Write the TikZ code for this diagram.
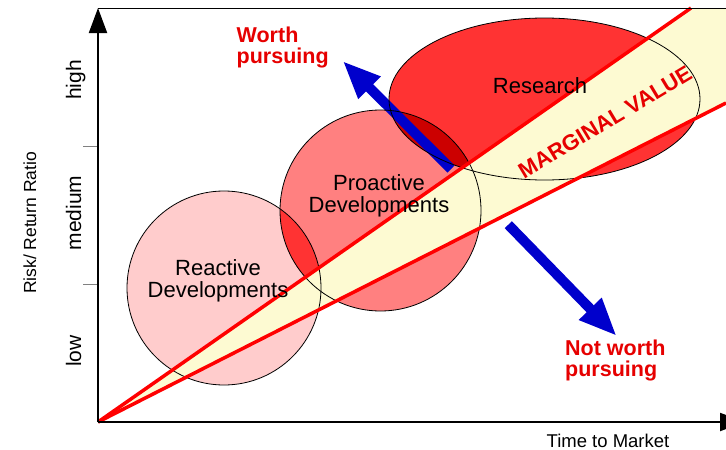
\documentclass[tikz,border=0pt]{standalone}
\usepackage{fontspec}
\setmainfont{Liberation Sans}
\usetikzlibrary{arrows.meta}
\definecolor{reactfill}{HTML}{FFCCCC}
\definecolor{proactfill}{HTML}{FF8080}
\definecolor{resfill}{HTML}{FF3333}
\definecolor{darkov}{HTML}{CC0000}
\definecolor{bandfill}{HTML}{FDFAD2}
\definecolor{txtred}{HTML}{E60000}
\definecolor{arrblue}{HTML}{0000CC}
\definecolor{axisgray}{HTML}{222222}
\begin{document}
\begin{tikzpicture}[x=1pt,y=-1pt,
  bodytext/.style={inner sep=0pt, align=center, font=\fontsize{22}{22.5}\selectfont},
  redtext/.style={inner sep=0pt, align=left, text=txtred, font=\bfseries\fontsize{21.5}{21}\selectfont},
  axislabel/.style={inner sep=0pt, rotate=90, anchor=base, font=\fontsize{21}{21}\selectfont},
  outline/.style={draw=black, line width=0.8pt},
  redline/.style={draw=red, line width=3.5pt},
  bluearrow/.style={draw=arrblue, line width=10pt, -{Triangle[length=38pt,width=29pt]}},
  axisline/.style={draw=axisgray, line width=2pt},
  tickline/.style={draw=gray, line width=1pt}]
\useasboundingbox (0,0) rectangle (726,450);
\clip (0,0) rectangle (726,450);
% key points
\coordinate (O) at (98,422);
\coordinate (Utop) at (691,8);
\coordinate (TR) at (726,8);
\coordinate (Lend) at (726,103);
\coordinate (Ytop) at (98,8);
\coordinate (Xend) at (745,422);
% fills
\fill[reactfill] (224,288) circle (97);
\fill[proactfill] (380.5,210.5) circle (100.5);
\fill[resfill] (544.5,99) ellipse [x radius=155.5, y radius=81];
\begin{scope}
  \clip (224,288) circle (97);
  \fill[resfill] (380.5,210.5) circle (100.5);
\end{scope}
\begin{scope}
  \clip (380.5,210.5) circle (100.5);
  \fill[darkov] (544.5,99) ellipse [x radius=155.5, y radius=81];
\end{scope}
% marginal band
\fill[bandfill] (O) -- (Utop) -- (TR) -- (Lend) -- cycle;
% blue arrows
\coordinate (upTail) at (451,169);
\coordinate (upTip) at (342.7,61);
\coordinate (dnTail) at (508.3,224.7);
\coordinate (dnTip) at (616.7,336);
\draw[bluearrow] (upTail) -- (upTip);
\draw[bluearrow] (dnTail) -- (dnTip);
% outlines
\draw[outline] (224,288) circle (97);
\draw[outline] (380.5,210.5) circle (100.5);
\draw[outline] (544.5,99) ellipse [x radius=155.5, y radius=81];
% red boundary lines
\draw[redline] (O) -- (Utop);
\draw[redline] (O) -- (Lend);
% axes
\draw[draw=black, line width=0.8pt] (Ytop) -- (TR);
\draw[tickline] (83,146) -- (98,146);
\draw[tickline] (83,284) -- (98,284);
\draw[axisline, -{Triangle[length=25pt,width=18pt]}, black] (O) -- (Ytop);
\draw[axisline, -{Triangle[length=25pt,width=18pt]}, black] (O) -- (Xend);
% circle texts
\node[bodytext] (reacttxt) at (218,281) {Reactive\\Developments};
\node[bodytext] (proacttxt) at (379,196) {Proactive\\Developments};
\node[bodytext] (restxt) at (540,86) {Research};
% band label
\node[inner sep=0pt, text=txtred, rotate=31, font=\bfseries\fontsize{22}{22}\selectfont] (margtxt) at (605,122) {MARGINAL VALUE};
% pursuing labels
\node[redtext, anchor=north west] (worthtxt) at (236.5,26.5) {Worth\\pursuing};
\node[redtext, anchor=north west] (notworthtxt) at (565,339.5) {Not worth\\pursuing};
% axis labels
\node[axislabel] (hightxt) at (81,80) {high};
\node[axislabel] (medtxt) at (81,213) {medium};
\node[axislabel] (lowtxt) at (81,351) {low};
\node[inner sep=0pt, rotate=90, anchor=base, font=\fontsize{17.5}{17.5}\selectfont] (ytitle) at (36,223) {Risk/ Return Ratio};
\node[inner sep=0pt, anchor=base, font=\fontsize{18.5}{18.5}\selectfont] (xtitle) at (608,447) {Time to Market};
\end{tikzpicture}
\end{document}
